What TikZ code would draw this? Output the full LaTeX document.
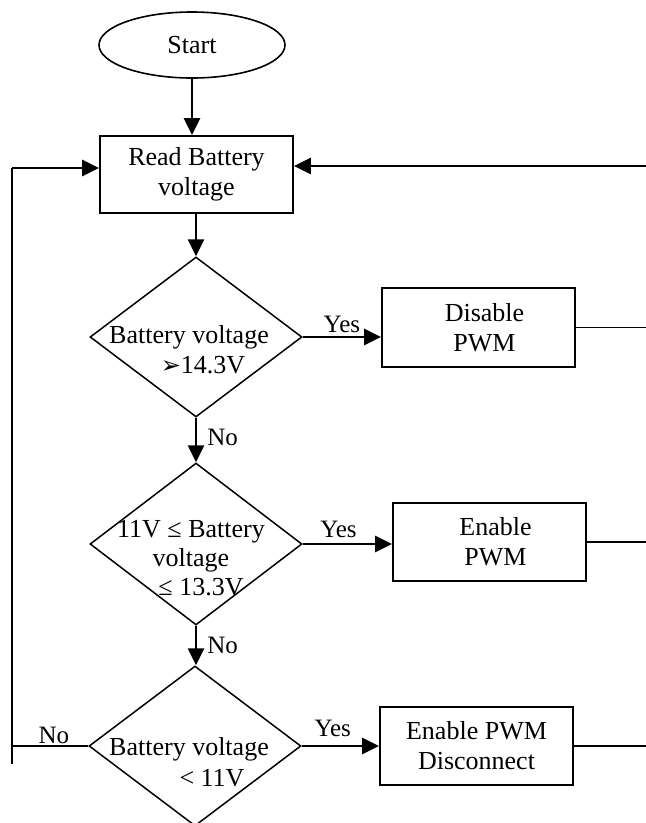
\documentclass[tikz,border=0pt]{standalone}
\usepackage{fontspec}
\setmainfont{Liberation Serif}
\newfontfamily\symfont{DejaVu Sans}
\usetikzlibrary{shapes.geometric,arrows.meta}
\tikzset{
  boxnode/.style={draw, line width=1.8pt, rectangle, minimum width=193pt, minimum height=78pt, inner sep=0pt, align=center, font=\fontsize{26}{30}\selectfont},
  dia/.style={draw, line width=1.5pt, diamond, minimum width=212pt, minimum height=160pt, inner sep=0pt},
  txt/.style={inner sep=0pt, align=center, font=\fontsize{26}{30}\selectfont},
  lbl/.style={inner sep=0pt, font=\fontsize{25}{28}\selectfont},
  flow/.style={line width=2.6pt, -{Triangle[length=17pt,width=16pt]}},
  plain/.style={line width=1.6pt},
  loop/.style={line width=2.4pt}
}
\begin{document}
\begin{tikzpicture}[x=1pt,y=-1pt]
\useasboundingbox (0,0) rectangle (646,823);
% nodes
\node[draw, line width=1.6pt, ellipse, minimum width=186pt, minimum height=66pt, inner sep=0pt, font=\fontsize{26}{30}\selectfont] (start) at (192,45) {Start};
\node[boxnode, minimum height=77pt] (read) at (196.5,174.5) {Read Battery\\voltage};
\node[dia] (d1) at (196,337) {};
\node[txt] (d1t) at (189,350) {Battery voltage\\\hspace*{28pt}{\symfont\fontsize{24}{30}\selectfont ➢}14.3V};
\node[boxnode, minimum height=79pt] (dis) at (478.5,327.5) {\hspace*{12pt}Disable\\\hspace*{12pt}PWM};
\node[dia, minimum height=162pt] (d2) at (196,544) {};
\node[txt, font=\fontsize{26}{29}\selectfont] (d2t) at (191,558) {11V ≤ Battery\\voltage\\\hspace*{20pt}≤ 13.3V};
\node[boxnode] (en) at (489.5,542) {\hspace*{12pt}Enable\\\hspace*{12pt}PWM};
\node[dia] (d3) at (195,746) {};
\node[txt, font=\fontsize{26}{31}\selectfont] (d3t) at (189,762) {Battery voltage\\\hspace*{46pt}< 11V};
\node[boxnode] (dc) at (476.5,746) {Enable PWM\\Disconnect};
% coordinates
\coordinate (lt) at (12,168);
\coordinate (lb) at (12,764);
\coordinate (rtop) at (646,166);
\coordinate (redge) at (646,0);
% connectors
\draw[flow] (start.south) -- (start.south |- read.north);
\draw[flow] (read.south -| d1.north) -- (d1.north);
\draw[flow] (d1.east) -- (d1.east -| dis.west) node[lbl, pos=0.5, above=3pt] (y1) {Yes};
\draw[flow] (d1.south) -- (d1.south |- d2.north) node[lbl, pos=0.45, right=10pt] (n1) {No};
\draw[flow] (d2.east) -- (d2.east -| en.west) node[lbl, pos=0.4, above=5pt] (y2) {Yes};
\draw[flow] (d2.south) -- (d2.south |- d3.north) node[lbl, pos=0.5, right=10pt] (n2) {No};
\draw[flow] (d3.east) -- (d3.east -| dc.west) node[lbl, pos=0.4, above=8pt] (y3) {Yes};
\draw[loop] (d3.west) -- (d3.west -| lb) node[lbl, pos=0.45, above=1pt] (n3) {No};
\draw[loop] (lb) -- (lt);
\draw[flow] (lt) -- (lt -| read.west);
\draw[plain] (dis.east) -- (dis.east -| redge);
\draw[plain] (en.east) -- (en.east -| redge);
\draw[plain] (dc.east) -- (dc.east -| redge);
\draw[flow] (rtop) -- (rtop -| read.east);
\end{tikzpicture}
\end{document}
